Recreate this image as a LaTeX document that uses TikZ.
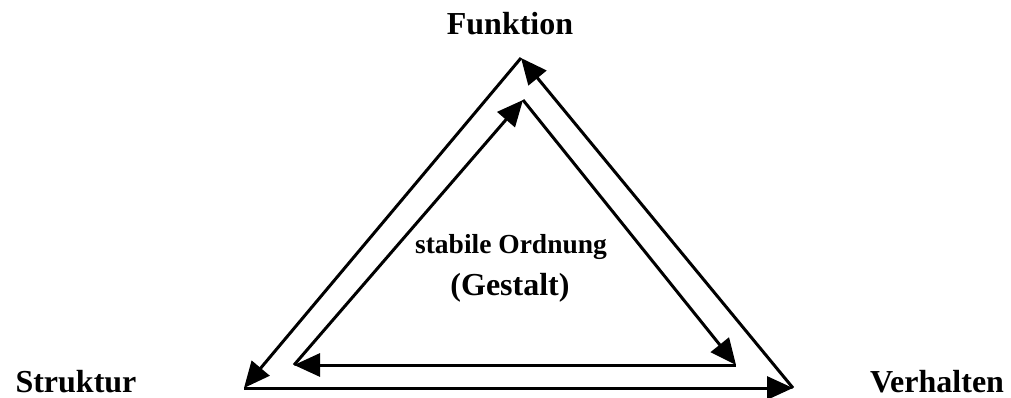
\documentclass[tikz,border=0pt]{standalone}
\usepackage{fontspec}
\setmainfont{Liberation Serif}
\usetikzlibrary{arrows.meta}
\begin{document}
\begin{tikzpicture}[x=1pt,y=-1pt,
  conn/.style={line width=3pt,-{Triangle[length=26pt,width=23pt]}},
  lbl/.style={inner sep=0pt,anchor=base,font=\bfseries\fontsize{32}{38}\selectfont},
  lblsmall/.style={inner sep=0pt,anchor=base,font=\bfseries\fontsize{27.5}{32}\selectfont}]
\useasboundingbox (0,0) rectangle (1011,398);
% outer triangle
\coordinate (OT) at (521,58);
\coordinate (OL) at (244,388);
\coordinate (OR) at (793,388);
% inner triangle
\coordinate (IT) at (523,100);
\coordinate (IL) at (294,365);
\coordinate (IR) at (736,365);
\draw[conn] (OT) -- (OL);
\draw[conn] (OL) -- (OR);
\draw[conn] (OR) -- (OT);
\draw[conn] (IL) -- (IT);
\draw[conn] (IT) -- (IR);
\draw[conn] (IR) -- (IL);
% labels
\node[lbl] (funktion) at (510,35) {Funktion};
\node[lbl] (struktur) at (76,392) {Struktur};
\node[lbl] (verhalten) at (937,392) {Verhalten};
\node[lblsmall] (ordnung) at (511,253) {stabile Ordnung};
\node[lbl] (gestalt) at (510,295) {(Gestalt)};
\end{tikzpicture}
\end{document}
